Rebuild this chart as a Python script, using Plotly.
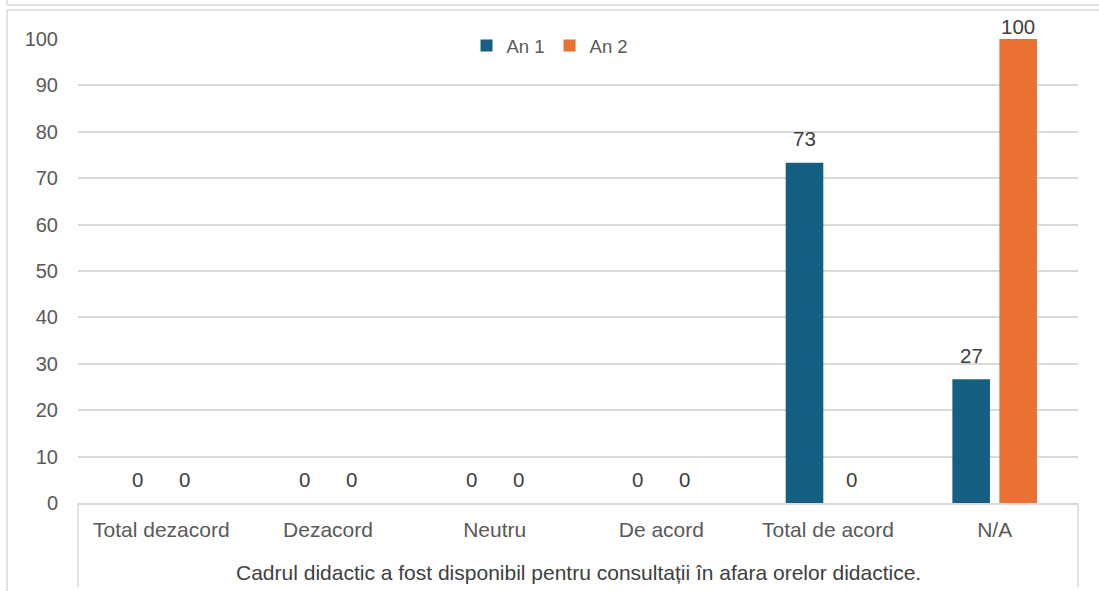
import plotly.graph_objects as go

categories = ["Total dezacord", "Dezacord", "Neutru", "De acord", "Total de acord", "N/A"]
an1 = [0, 0, 0, 0, 73.33, 26.67]
an2 = [0, 0, 0, 0, 0, 100]
series_names = ["An 1", "An 2"]
group_label = "Cadrul didactic a fost disponibil pentru consultații în afara orelor didactice."
y_ticks = list(range(0, 101, 10))

C1 = "#156082"
C2 = "#E97132"
GRID = "#d9d9d9"
FONT = "Liberation Sans, Arial, sans-serif"

fig = go.Figure()
fig.add_trace(go.Bar(name=series_names[0], x=categories, y=an1, marker_color=C1, marker_line_width=0))
fig.add_trace(go.Bar(name=series_names[1], x=categories, y=an2, marker_color=C2, marker_line_width=0))

# data labels
for vals, xs in ((an1, -23.5), (an2, 23.5)):
    for c, v in zip(categories, vals):
        fig.add_annotation(x=c, y=v, xref="x", yref="y", text=f"{v:.0f}",
                           showarrow=False, xshift=xs, yshift=(24 if v < 95 else 13),
                           font=dict(family=FONT, size=20.5, color="#404040"))

# group label
fig.add_annotation(x=0.5, y=-0.149, xref="paper", yref="paper", text=group_label,
                   showarrow=False, yanchor="middle",
                   font=dict(family=FONT, size=21, color="#404040"))

line = dict(color=GRID, width=1.5)
shapes = [
    dict(type="line", xref="paper", yref="paper", x0=0, x1=0, y0=0, y1=-0.181, line=line),
    dict(type="line", xref="paper", yref="paper", x0=1, x1=1, y0=0, y1=-0.181, line=line),
    # outer frames
    dict(type="line", xref="paper", yref="paper", x0=-0.071, x1=1.05, y0=1.0733, y1=1.0733, line=line),
    dict(type="line", xref="paper", yref="paper", x0=-0.071, x1=-0.071, y0=1.0733, y1=1.1, line=line),
    dict(type="line", xref="paper", yref="paper", x0=-0.071, x1=1.05, y0=1.0625, y1=1.0625, line=line),
    dict(type="line", xref="paper", yref="paper", x0=-0.071, x1=-0.071, y0=1.0625, y1=-0.25, line=line),
]

fig.update_layout(
    width=1099, height=591,
    margin=dict(l=78, r=21, t=39, b=88),
    paper_bgcolor="white", plot_bgcolor="white",
    barmode="group", bargap=0.436, bargroupgap=0.2,
    font=dict(family=FONT, size=20, color="#595959"),
    showlegend=True,
    legend=dict(orientation="h", x=0.472, xanchor="center", y=0.985, yanchor="middle",
                font=dict(family=FONT, size=18.5, color="#595959"),
                itemwidth=30,
                bgcolor="rgba(0,0,0,0)", itemclick=False),
    shapes=shapes,
    xaxis=dict(showgrid=False, showline=True, linecolor=GRID, linewidth=1.5,
               ticks="", ticklabelstandoff=7,
               tickfont=dict(family=FONT, size=21, color="#595959")),
    yaxis=dict(range=[0, 100], tickvals=y_ticks, showgrid=True, gridcolor=GRID,
               gridwidth=1.5, zeroline=False, showline=False, ticks="",
               ticklabelstandoff=19,
               tickfont=dict(family=FONT, size=20, color="#595959")),
)

fig.write_html("out.html", config={"displayModeBar": False},
               post_script="document.body.style.margin='0';")
